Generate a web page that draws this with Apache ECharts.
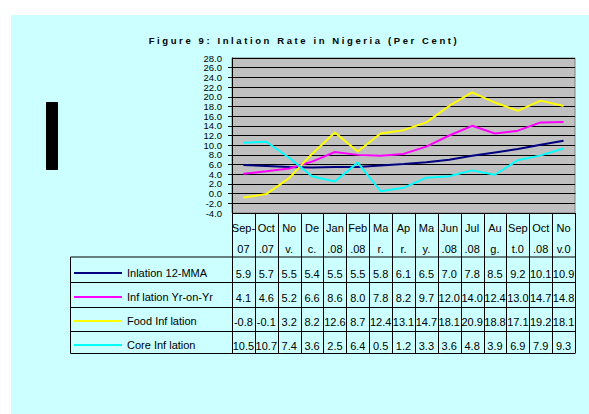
<!DOCTYPE html>
<html>
<head>
<meta charset="utf-8">
<script src="https://cdn.jsdelivr.net/npm/echarts@6/dist/echarts.min.js"></script>
<style>
  html, body { margin: 0; padding: 0; background: #fff; }
  #main { width: 589px; height: 414px; }
</style>
</head>
<body>
<div id="main"></div>
<script>
// categories as they show in the narrow table cells
const months = ['Sep-\n07', 'Oct\n.07', 'No\nv.', 'De\nc.', 'Jan\n.08', 'Feb\n.08', 'Ma\nr.', 'Ap\nr.',
  'Ma\ny.', 'Jun\n.08', 'Jul\n.08', 'Au\ng.', 'Sep\nt.0', 'Oct\n.08', 'No\nv.0'];

const mma12 = [5.9, 5.7, 5.5, 5.4, 5.5, 5.5, 5.8, 6.1, 6.5, 7.0, 7.8, 8.5, 9.2, 10.1, 10.9];
const yrOnYr = [4.1, 4.6, 5.2, 6.6, 8.6, 8.0, 7.8, 8.2, 9.7, 12.0, 14.0, 12.4, 13.0, 14.7, 14.8];
const food = [-0.8, -0.1, 3.2, 8.2, 12.6, 8.7, 12.4, 13.1, 14.7, 18.1, 20.9, 18.8, 17.1, 19.2, 18.1];
const core = [10.5, 10.7, 7.4, 3.6, 2.5, 6.4, 0.5, 1.2, 3.3, 3.6, 4.8, 3.9, 6.9, 7.9, 9.3];

const names = ['Inlation 12-MMA', 'Inf lation Yr-on-Yr', 'Food Inf lation', 'Core Inf lation'];
const colors = ['#000080', '#FF00FF', '#FFFF00', '#00FFFF'];
const rows = [mma12, yrOnYr, food, core];

const yMin = -4, yMax = 28, yStep = 2;

const TITLE = 'Figure 9: Inlation Rate in Nigeria (Per Cent)';
const FONT = 'Liberation Sans, Arial, sans-serif';
const chart = echarts.init(document.getElementById('main'), null, { renderer: 'svg' });

// table geometry (layout only)
const tblLeft = 70.5, tblRight = 575, rowLines = [257, 282.5, 307.5, 331.5, 353.5];
const rowMid = [274, 298, 322, 346];

const yLabel = { margin: 10, fontFamily: FONT, fontSize: 9.5, lineHeight: 9, color: '#000' };

const option = {
  backgroundColor: '#ffffff',
  animation: false,
  title: {
    text: TITLE,
    left: 299,
    top: 30,
    textAlign: 'center',
    textStyle: { fontFamily: FONT, fontSize: 9.5, fontWeight: 'bold', color: '#000' }
  },
  // one legend per table row so each key sits in its own cell
  legend: names.map((n, r) => ({
    data: [n],
    left: 74,
    top: rowMid[r] - 6.5,
    padding: 0,
    icon: 'rect',
    itemWidth: 48,
    itemHeight: 2,
    itemGap: 5,
    selectedMode: false,
    textStyle: { fontFamily: FONT, fontSize: 11, color: '#000' }
  })),
  grid: {
    left: 232, top: 58, right: 14, bottom: 201,
    show: true,
    backgroundColor: '#C0C0C0',
    borderColor: '#808080',
    borderWidth: 1
  },
  xAxis: {
    type: 'category',
    data: months,
    boundaryGap: true,
    axisLine: { show: true, lineStyle: { color: '#000', width: 1 } },
    axisTick: { show: false },
    axisLabel: {
      interval: 0, margin: 4, fontFamily: FONT, fontSize: 11, lineHeight: 21, color: '#000'
    }
  },
  yAxis: [{
    type: 'value',
    min: yMin, max: yMax, interval: yStep,
    axisLine: { show: true, lineStyle: { color: '#000', width: 1 } },
    axisTick: { show: true, length: 4, lineStyle: { color: '#000' } },
    axisLabel: Object.assign({}, yLabel, {
      showMinLabel: false, showMaxLabel: false,
      formatter: v => v.toFixed(1)
    }),
    splitLine: { show: true, lineStyle: { color: '#000', width: 1 } }
  }, {
    // second copy of the scale only to print the end labels that the first hides
    type: 'value',
    position: 'left',
    min: yMin, max: yMax, interval: yStep,
    axisLine: { show: false },
    axisTick: { show: false },
    splitLine: { show: false },
    axisLabel: Object.assign({}, yLabel, {
      showMinLabel: true, showMaxLabel: true,
      formatter: v => (v === yMin || v === yMax) ? v.toFixed(1) : ''
    })
  }],
  series: rows.map((d, i) => ({
    name: names[i],
    type: 'line',
    data: d,
    symbol: 'none',
    color: colors[i],
    lineStyle: { width: 2, color: colors[i] }
  }))
};

chart.setOption(option);

// data table below the plot, columns follow the category axis
const colX = months.map((m, i) => chart.convertToPixel({ xAxisIndex: 0 }, i));
const step = colX[1] - colX[0];
const plotBottom = chart.convertToPixel({ yAxisIndex: 0 }, yMin);

const graphic = [
  { type: 'rect', z: -10, silent: true, shape: { x: 11, y: 15, width: 578, height: 399 }, style: { fill: '#CCFFFF' } },
  { type: 'rect', z: -5, silent: true, shape: { x: 46, y: 102, width: 12, height: 68 }, style: { fill: '#000' } },
  { type: 'line', silent: true, shape: { x1: tblLeft, y1: rowLines[0], x2: tblLeft, y2: rowLines[4] }, style: { stroke: '#000', lineWidth: 1 } }
];
rowLines.forEach(y => {
  graphic.push({ type: 'line', silent: true, shape: { x1: tblLeft, y1: y, x2: tblRight, y2: y }, style: { stroke: '#000', lineWidth: 1 } });
});
// column separators at the category band edges
colX.concat([colX[colX.length - 1] + step]).forEach(cx => {
  const x = Math.round(cx - step / 2) + 0.5;
  graphic.push({ type: 'line', silent: true, shape: { x1: x, y1: plotBottom, x2: x, y2: rowLines[4] }, style: { stroke: '#000', lineWidth: 1 } });
});
rows.forEach((d, r) => {
  d.forEach((v, i) => {
    graphic.push({
      type: 'text', silent: true,
      x: colX[i], y: rowMid[r],
      style: {
        text: v.toFixed(1), fontFamily: FONT, fontSize: 11, fill: '#000',
        align: 'center', verticalAlign: 'middle'
      }
    });
  });
});

chart.setOption({ graphic: graphic });

// the printed title is widely letter-spaced
document.querySelectorAll('#main svg text').forEach(t => {
  if (t.textContent === TITLE) t.setAttribute('letter-spacing', '2.6');
});
</script>
</body>
</html>
